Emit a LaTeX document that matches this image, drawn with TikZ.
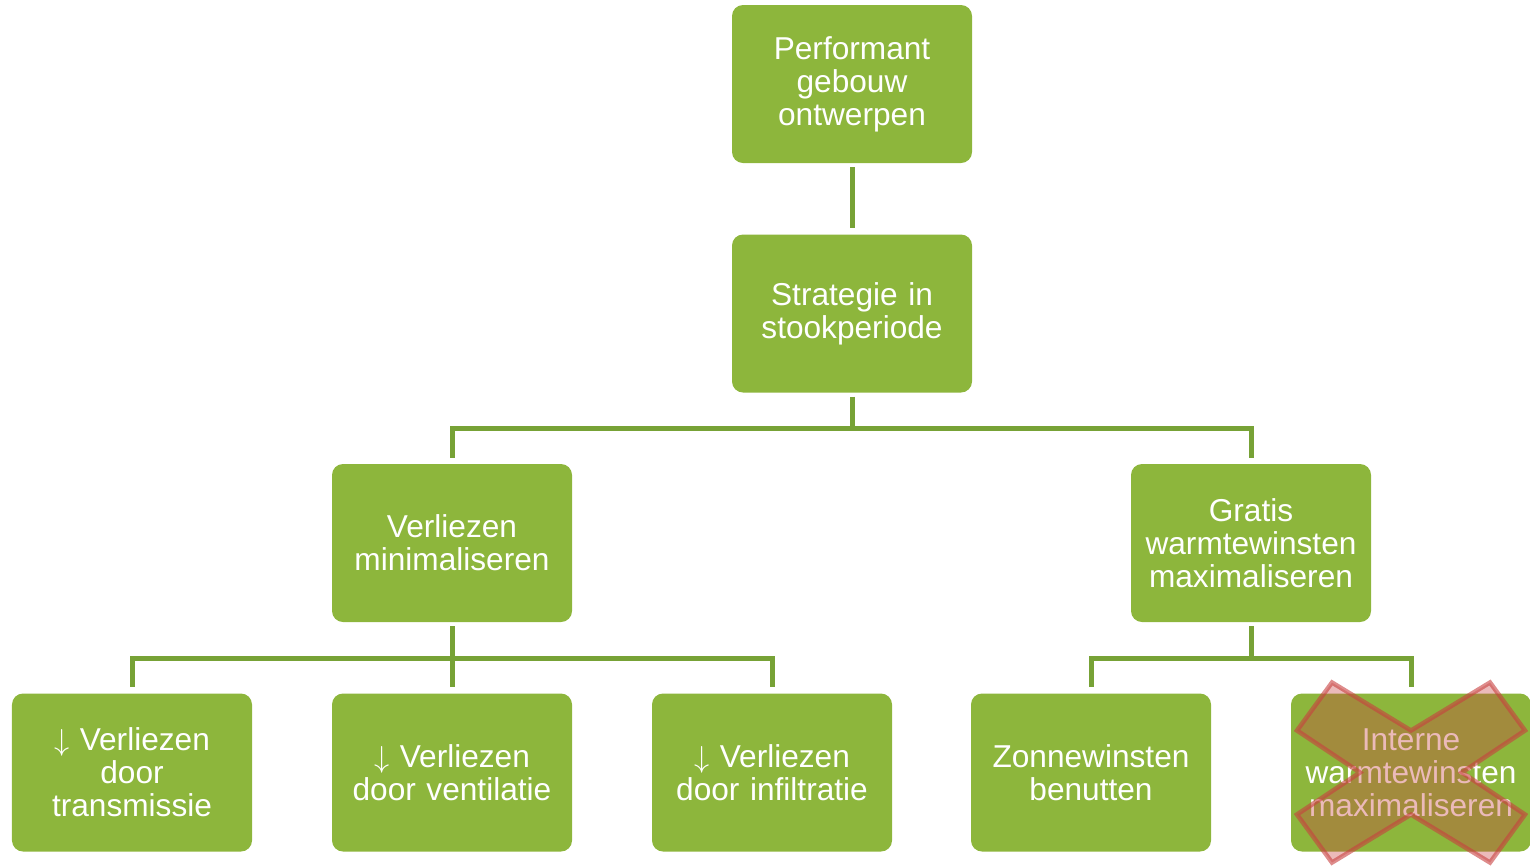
\documentclass[tikz,border=0pt]{standalone}
\usepackage{fontspec}
\setmainfont{Liberation Sans}
\usetikzlibrary{positioning}
\definecolor{boxgreen}{HTML}{8DB63C}
\definecolor{linegreen}{HTML}{77A236}
\definecolor{crossred}{HTML}{C8403F}
\tikzstyle{block} = [fill=boxgreen, rounded corners=0.22cm, inner sep=0.1cm, minimum width=4.8cm, minimum height=3.16cm, text width=4.6cm, align=center, text=white, font=\fontsize{18}{18.7}\selectfont]
\tikzstyle{link} = [draw=linegreen, line width=0.1cm]
\tikzstyle{cross} = [draw=crossred, draw opacity=0.6, line width=0.09cm, fill=crossred, fill opacity=0.36, line join=miter]

\begin{document}
\begin{tikzpicture}[node distance=4.59cm]
\useasboundingbox (0,0) rectangle (30.6,-17.34);

\node [block] (top) at (17.04,-1.68) {Performant\\ gebouw\\ ontwerpen};
\node [block, below of=top] (strategy) {Strategie in\\ stookperiode};

\node [block, below of=strategy, xshift=-8cm] (minimize) {Verliezen\\ minimaliseren};
\node [block, below of=strategy, xshift=7.98cm] (gratis) {Gratis\\ warmtewinsten\\ maximaliseren};

\node [block, below of=minimize, xshift=-6.4cm] (transmissie) {$\downarrow$ Verliezen\\ door\\ transmissie};
\node [block, below of=minimize] (ventilatie) {$\downarrow$ Verliezen\\ door ventilatie};
\node [block, below of=minimize, xshift=6.4cm] (infiltratie) {$\downarrow$ Verliezen\\ door infiltratie};

\node [block, below of=gratis, xshift=-3.2cm] (zonne) {Zonnewinsten\\ benutten};
\node [block, below of=gratis, xshift=3.2cm] (interne) {Interne\\ warmtewinsten\\ maximaliseren};

\draw [link] ([yshift=-0.08cm]top.south) -- ([yshift=0.12cm]strategy.north);

\draw [link] ([yshift=-0.08cm]strategy.south) -- ++(0,-0.64) -| ([yshift=0.12cm]minimize.north);
\draw [link] ([yshift=-0.08cm]strategy.south) -- ++(0,-0.64) -| ([yshift=0.12cm]gratis.north);

\draw [link] ([yshift=-0.08cm]minimize.south) -- ++(0,-0.64) -| ([yshift=0.12cm]transmissie.north);
\draw [link] ([yshift=-0.08cm]minimize.south) -- ([yshift=0.12cm]ventilatie.north);
\draw [link] ([yshift=-0.08cm]minimize.south) -- ++(0,-0.64) -| ([yshift=0.12cm]infiltratie.north);

\draw [link] ([yshift=-0.08cm]gratis.south) -- ++(0,-0.64) -| ([yshift=0.12cm]zonne.north);
\draw [link] ([yshift=-0.08cm]gratis.south) -- ++(0,-0.64) -| ([yshift=0.12cm]interne.north);

% crossed out
\begin{scope}[shift={(interne.center)}]
\draw [cross] (-2.28,0.84) -- (-1.58,1.8) -- (0,0.84) -- (1.58,1.8) -- (2.28,0.84) -- (1.02,0)
  -- (2.28,-0.84) -- (1.58,-1.8) -- (0,-0.84) -- (-1.58,-1.8) -- (-2.28,-0.84) -- (-1.02,0) -- cycle;
\end{scope}

\end{tikzpicture}
\end{document}
